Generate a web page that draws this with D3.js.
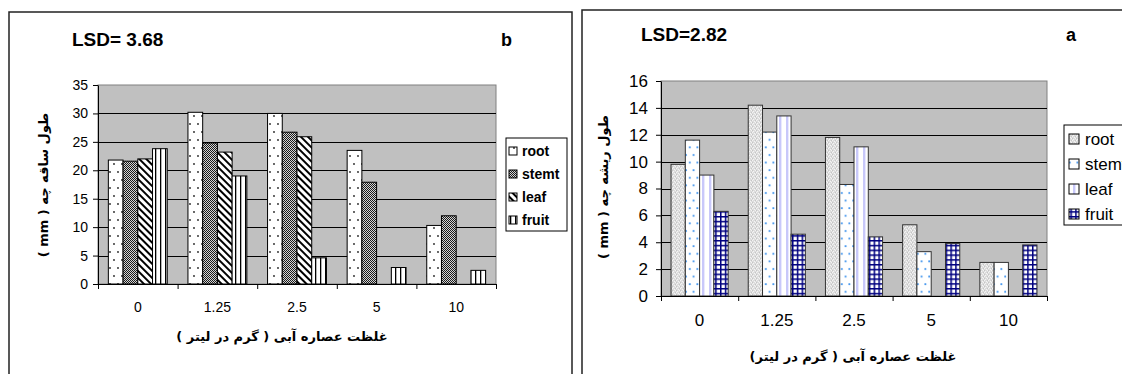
<!DOCTYPE html>
<html>
<head>
<meta charset="utf-8">
<script src="https://cdn.jsdelivr.net/npm/d3@7/dist/d3.min.js"></script>
<style>
body{margin:0;background:#fff;}
svg{display:block;font-family:"Liberation Sans",Arial,"DejaVu Sans",sans-serif;}
</style>
</head>
<body>
<svg id="chart" width="1122" height="374"></svg>
<script>
var categories = ["0", "1.25", "2.5", "5", "10"];
var seriesNames = ["root", "stemt", "leaf", "fruit"];

// panel b : stem length (mm)
var rootB  = [21.8, 30.2, 30.0, 23.5, 10.3];
var stemtB = [21.6, 24.8, 26.7, 17.9, 12.0];
var leafB  = [22.0, 23.2, 25.9, null, null];
var fruitB = [23.8, 19.0, 4.6, 2.9, 2.4];
var ticksB = [0, 5, 10, 15, 20, 25, 30, 35];

// panel a : root length (mm)
var rootA  = [9.8, 14.2, 11.8, 5.3, 2.5];
var stemtA = [11.6, 12.2, 8.3, 3.3, 2.5];
var leafA  = [9.0, 13.4, 11.1, null, null];
var fruitA = [6.3, 4.6, 4.4, 3.9, 3.8];
var ticksA = [0, 2, 4, 6, 8, 10, 12, 14, 16];

var svg = d3.select("#chart");
var defs = svg.append("defs");

function addPattern(id, w, h, bg, transform){
	var p = defs.append("pattern")
		.attr("id", id)
		.attr("patternUnits", "userSpaceOnUse")
		.attr("width", w).attr("height", h);
	if(transform) p.attr("patternTransform", transform);
	p.append("rect").attr("width", w).attr("height", h).attr("fill", bg);
	return p;
}

// black & white fills of panel b
var p = addPattern("bRoot", 8, 16, "#fff");
p.append("circle").attr("cx", 2).attr("cy", 4).attr("r", 0.9).attr("fill", "#222");
p.append("circle").attr("cx", 6).attr("cy", 12).attr("r", 0.9).attr("fill", "#222");

p = addPattern("bStemt", 2, 2, "#d4d4d4");
p.append("rect").attr("width", 1).attr("height", 1).attr("fill", "#1a1a1a");
p.append("rect").attr("x", 1).attr("y", 1).attr("width", 1).attr("height", 1).attr("fill", "#1a1a1a");

p = addPattern("bLeaf", 5, 5, "#fff", "rotate(-45)");
p.append("rect").attr("width", 2).attr("height", 5).attr("fill", "#000");

p = addPattern("bFruit", 5, 4, "#fff");
p.append("rect").attr("width", 1.3).attr("height", 4).attr("fill", "#000");

// coloured fills of panel a
p = addPattern("aRoot", 4, 4, "#dcdcdc");
[[0,0],[2,1],[1,3],[3,2]].forEach(function(d){
	p.append("rect").attr("x", d[0]).attr("y", d[1]).attr("width", 1).attr("height", 1).attr("fill", "#f4f4f4");
});
[[3,0],[0,2]].forEach(function(d){
	p.append("rect").attr("x", d[0]).attr("y", d[1]).attr("width", 1).attr("height", 1).attr("fill", "#c4c4c4");
});

p = addPattern("aStemt", 7.6, 15.2, "#fff");
p.append("circle").attr("cx", 2).attr("cy", 3).attr("r", 1).attr("fill", "#3f93ee");
p.append("circle").attr("cx", 5.8).attr("cy", 10.6).attr("r", 1).attr("fill", "#3f93ee");

p = addPattern("aLeaf", 7, 4, "#fff");
p.append("rect").attr("x", 2).attr("width", 2.4).attr("height", 4).attr("fill", "#c8c8fa");

p = addPattern("aFruit", 4.8, 4.8, "#fff");
p.append("rect").attr("width", 1.5).attr("height", 4.8).attr("fill", "#00007f");
p.append("rect").attr("width", 4.8).attr("height", 1.5).attr("fill", "#00007f");

function panel(o){
	var g = svg.append("g");

	g.append("rect")
		.attr("x", o.frame[0]).attr("y", o.frame[1])
		.attr("width", o.frame[2]).attr("height", o.frame[3])
		.attr("fill", "none").attr("stroke", "#222").attr("stroke-width", 1.5);

	var x0 = d3.scaleBand().domain(categories).range([o.left, o.right]);
	var bw = x0.bandwidth();
	var x1 = d3.scaleBand().domain(seriesNames).range([bw * 0.13, bw * 0.87]);
	var y = d3.scaleLinear().domain([0, d3.max(o.ticks)]).range([o.bottom, o.top]);

	g.append("rect")
		.attr("x", o.left).attr("y", o.top)
		.attr("width", o.right - o.left).attr("height", o.bottom - o.top)
		.attr("fill", "#c0c0c0").attr("stroke", "#808080");

	g.selectAll(".grid")
		.data(o.ticks.slice(1, -1))
		.enter().append("line")
		.attr("x1", o.left).attr("x2", o.right)
		.attr("y1", function(d){ return Math.round(y(d)) + 0.5; })
		.attr("y2", function(d){ return Math.round(y(d)) + 0.5; })
		.attr("stroke", "#000");

	var bars = [];
	o.series.forEach(function(vals, si){
		vals.forEach(function(v, ci){
			if(v != null) bars.push({cat: categories[ci], s: seriesNames[si], v: v, fill: o.fills[si]});
		});
	});

	g.selectAll(".bar")
		.data(bars)
		.enter().append("rect")
		.attr("x", function(d){ return x0(d.cat) + x1(d.s); })
		.attr("y", function(d){ return y(d.v); })
		.attr("width", x1.bandwidth())
		.attr("height", function(d){ return y(0) - y(d.v); })
		.attr("fill", function(d){ return "url(#" + d.fill + ")"; })
		.attr("stroke", o.barStroke).attr("stroke-width", 1);

	var yAxis = g.append("g")
		.attr("transform", "translate(" + o.left + ",0)")
		.call(d3.axisLeft(y).tickValues(o.ticks).tickSize(5).tickSizeOuter(0).tickPadding(o.yPad));
	yAxis.selectAll("text").attr("font-size", o.tickFont).attr("fill", "#000")
		.attr("font-family", "Liberation Sans, Arial, sans-serif");

	var xAxis = g.append("g")
		.attr("transform", "translate(0," + o.bottom + ")")
		.call(d3.axisBottom(x0).tickSize(0).tickPadding(o.xPad));
	xAxis.selectAll("text").attr("font-size", o.tickFont).attr("fill", "#000")
		.attr("font-family", "Liberation Sans, Arial, sans-serif");

	var edges = d3.scaleLinear().domain([0, categories.length]).range([o.left, o.right]);
	g.append("g")
		.attr("transform", "translate(0," + o.bottom + ")")
		.call(d3.axisBottom(edges).tickValues(d3.range(categories.length + 1)).tickFormat("").tickSize(5).tickSizeOuter(0))
		.select(".domain").remove();

	g.selectAll(".domain, .tick line").attr("stroke", "#000");

	// legend
	var lg = g.append("g");
	lg.append("rect")
		.attr("x", o.legend.x).attr("y", o.legend.y)
		.attr("width", o.legend.w).attr("height", o.legend.h)
		.attr("fill", "#fff").attr("stroke", "#000");
	seriesNames.forEach(function(s, i){
		var cy = o.legend.y + o.legend.first + i * o.legend.step;
		lg.append("rect")
			.attr("x", o.legend.x + o.legend.sx).attr("y", cy - o.legend.size / 2)
			.attr("width", o.legend.size).attr("height", o.legend.size)
			.attr("fill", "url(#" + o.fills[i] + ")").attr("stroke", "#000");
		lg.append("text")
			.attr("x", o.legend.x + o.legend.tx).attr("y", cy)
			.attr("dy", "0.35em")
			.attr("font-size", o.legend.font).attr("font-weight", o.legend.weight)
			.text(s);
	});

	g.append("text")
		.attr("x", o.lsd[0]).attr("y", o.lsd[1])
		.attr("font-size", 19).attr("font-weight", "bold")
		.text(o.lsdText);
	g.append("text")
		.attr("x", o.letter[0]).attr("y", o.letter[1])
		.attr("font-size", 18).attr("font-weight", "bold")
		.text(o.letterText);

	g.append("text")
		.attr("x", o.xTitle[0]).attr("y", o.xTitle[1])
		.attr("text-anchor", "middle").attr("direction", "rtl")
		.attr("font-size", o.titleFont).attr("font-weight", "bold")
		.attr("font-family", "DejaVu Sans, sans-serif")
		.text(o.xTitleText);

	g.append("text")
		.attr("transform", "translate(" + o.yTitle[0] + "," + o.yTitle[1] + ") rotate(-90)")
		.attr("text-anchor", "middle").attr("direction", "rtl")
		.attr("font-size", o.titleFont).attr("font-weight", "bold")
		.attr("font-family", "DejaVu Sans, sans-serif")
		.text(o.yTitleText);
}

panel({
	frame: [9, 12, 563, 400],
	left: 98, right: 496, top: 85, bottom: 284,
	ticks: ticksB,
	series: [rootB, stemtB, leafB, fruitB],
	fills: ["bRoot", "bStemt", "bLeaf", "bFruit"],
	barStroke: "#000",
	tickFont: 14, yPad: 5, xPad: 18,
	legend: {x: 506, y: 138, w: 61, h: 93, first: 13, step: 23, size: 8, sx: 3, tx: 16, font: 14, weight: "bold"},
	lsd: [72, 46], lsdText: "LSD= 3.68",
	letter: [501, 46], letterText: "b",
	titleFont: 13,
	xTitle: [282, 341], xTitleText: "غلظت عصاره آبی ( گرم در لیتر )",
	yTitle: [48, 185], yTitleText: "طول ساقه چه  ( mm )"
});

panel({
	frame: [582, 10, 600, 400],
	left: 661, right: 1047, top: 81, bottom: 296,
	ticks: ticksA,
	series: [rootA, stemtA, leafA, fruitA],
	fills: ["aRoot", "aStemt", "aLeaf", "aFruit"],
	barStroke: "#333",
	tickFont: 17, yPad: 8, xPad: 18,
	legend: {x: 1064, y: 125, w: 80, h: 100, first: 14, step: 25, size: 10, sx: 5, tx: 21, font: 17, weight: "normal"},
	lsd: [641, 41], lsdText: "LSD=2.82",
	letter: [1066, 41], letterText: "a",
	titleFont: 13,
	xTitle: [853, 361], xTitleText: "غلظت عصاره آبی ( گرم در لیتر)",
	yTitle: [608, 187], yTitleText: "طول ریشه چه  ( mm )"
});
</script>
</body>
</html>
